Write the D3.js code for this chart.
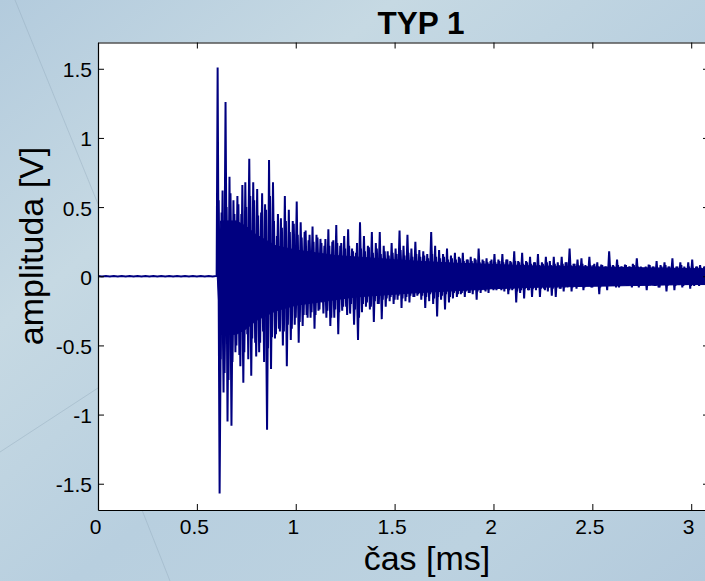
<!DOCTYPE html>
<html><head><meta charset="utf-8">
<script src="https://cdn.jsdelivr.net/npm/d3@7"></script>
<style>
html,body{margin:0;padding:0;overflow:hidden;}
svg{display:block;}
text{font-family:"Liberation Sans",Arial,Helvetica,sans-serif;fill:#000;}
</style></head>
<body>
<script>
// ---- data ----
const chartTitle = "TYP 1";
const xLabel = "čas [ms]";
const yLabel = "amplituda [V]";
const xTickValues = [0, 0.5, 1, 1.5, 2, 2.5, 3];
const xTickLabels = ["0", "0.5", "1", "1.5", "2", "2.5", "3"];
const yTickValues = [-1.5, -1, -0.5, 0, 0.5, 1, 1.5];
const yTickLabels = ["-1.5", "-1", "-0.5", "0", "0.5", "1", "1.5"];
const xDomain = [0, 3.09];
const yDomain = [-1.69, 1.69];

// quiet baseline before the onset (every 0.02 ms from 0 ms)
const baselineStart = 0;
const baselineStep = 0.02;
const baselineValues = [0.001,-0.001,0.001,-0.001,0.001,-0.001,0.001,-0.001,0.001,-0.001,
  0.001,-0.001,0.001,-0.001,0.001,-0.001,0.001,-0.001,0.001,-0.001,
  0.001,-0.001,0.001,-0.001,0.001,-0.001,0.001,-0.001,0.001,-0.001,0.002];

// dense oscillation core of the signal (solid band), envelope read at these times
const coreTimes = [0.603, 0.612, 0.62, 0.7, 0.75, 0.8, 0.9, 1.0, 1.1, 1.2, 1.3, 1.4, 1.5, 1.6, 1.8, 2.0, 2.2, 2.4, 2.6, 2.8, 3.0, 3.09];
const coreUpper = [0.0, 0.24, 0.40, 0.40, 0.36, 0.30, 0.22, 0.19, 0.17, 0.15, 0.14, 0.13, 0.12, 0.11, 0.095, 0.085, 0.075, 0.07, 0.065, 0.06, 0.055, 0.055];
const coreLower = [0.0, -0.24, -0.42, -0.42, -0.38, -0.32, -0.25, -0.21, -0.19, -0.17, -0.15, -0.14, -0.13, -0.12, -0.105, -0.09, -0.08, -0.075, -0.07, -0.065, -0.06, -0.06];

// after the onset: main positive and negative peaks (one pair per 0.02 ms from 0.605 ms)
const onsetTime = 0.605;
const peakCycle = 0.02;
const peaksUp = [
  1.51,0.46,1.26,0.72,0.55,0.58,0.45,0.68,0.85,0.68,
  0.63,0.46,0.52,0.84,0.68,0.29,0.42,0.58,0.48,0.40,
  0.54,0.39,0.32,0.26,0.36,0.30,0.27,0.22,0.34,0.25,
  0.37,0.22,0.29,0.34,0.20,0.17,0.39,0.29,0.22,0.32,
  0.24,0.32,0.22,0.18,0.24,0.20,0.33,0.22,0.30,0.20,
  0.25,0.19,0.18,0.16,0.32,0.22,0.19,0.16,0.20,0.15,
  0.17,0.14,0.17,0.12,0.14,0.13,0.20,0.12,0.13,0.11,
  0.16,0.12,0.16,0.12,0.11,0.18,0.11,0.17,0.11,0.14,
  0.10,0.16,0.10,0.14,0.11,0.14,0.10,0.14,0.10,0.20,
  0.09,0.12,0.13,0.08,0.14,0.08,0.10,0.085,0.07,0.18,
  0.08,0.12,0.07,0.085,0.07,0.09,0.13,0.07,0.06,0.085,
  0.07,0.11,0.08,0.10,0.07,0.13,0.07,0.10,0.07,0.10,
  0.12,0.07,0.08,0.07,0.08];
const peaksDown = [
  -1.57,-0.84,-1.05,-1.08,-0.55,-0.57,-0.77,-0.42,-0.72,-0.48,
  -0.55,-0.40,-1.11,-0.67,-0.45,-0.38,-0.50,-0.65,-0.46,-0.35,
  -0.48,-0.36,-0.28,-0.30,-0.38,-0.25,-0.19,-0.30,-0.36,-0.30,
  -0.42,-0.25,-0.22,-0.27,-0.35,-0.46,-0.26,-0.22,-0.24,-0.33,
  -0.20,-0.31,-0.22,-0.18,-0.20,-0.17,-0.23,-0.18,-0.19,-0.15,
  -0.14,-0.17,-0.23,-0.18,-0.20,-0.29,-0.17,-0.24,-0.19,-0.16,
  -0.15,-0.13,-0.15,-0.12,-0.13,-0.17,-0.12,-0.10,-0.12,-0.09,
  -0.10,-0.09,-0.11,-0.13,-0.10,-0.19,-0.12,-0.16,-0.10,-0.15,
  -0.10,-0.15,-0.09,-0.11,-0.14,-0.15,-0.09,-0.11,-0.08,-0.11,
  -0.07,-0.07,-0.10,-0.06,-0.08,-0.07,-0.13,-0.07,-0.10,-0.07,
  -0.06,-0.08,-0.06,-0.07,-0.06,-0.05,-0.08,-0.06,-0.10,-0.06,
  -0.07,-0.08,-0.06,-0.11,-0.06,-0.10,-0.06,-0.08,-0.06,-0.09,
  -0.07,-0.06,-0.06,-0.06,-0.07];

// secondary (in-between) peaks, one pair per 0.02 ms from 0.610 ms
const secondTime = 0.610;
const peaksUp2 = [
  0.55,0.62,0.50,0.60,0.45,0.52,0.66,0.50,0.58,0.55,0.44,0.60,0.48,0.58,0.40,0.45,
  0.35,0.40,0.32,0.38,0.30,0.28,0.33,0.30,0.25,0.28,0.24,0.27,0.22,0.26,0.24,
  0.24,0.20,0.22,0.18,0.24,0.20,0.18,0.21,0.17,0.20,0.16,0.18,0.15,0.17,0.16,0.19,0.15,0.17,0.14,0.16,
  0.14,0.15,0.13,0.16,0.14,0.13,0.14,0.12,0.13,0.12,0.13,0.11,0.12,0.11,0.12,0.10,0.11,0.10,0.12,0.10,0.11,0.10,0.12,0.10,0.11,
  0.10,0.09,0.10,0.09,0.10,0.08,0.09,0.10,0.08,0.09,0.08,0.09,0.10,0.08,0.09,0.08,0.09,0.07,0.08,0.09,
  0.07,0.08,0.07,0.08,0.07,0.08,0.07,0.08,0.07,0.08,0.07,0.06,0.07,0.08,0.07,0.06,0.07,0.08,0.07,0.06,
  0.07,0.08,0.06,0.07,0.06,0.07,0.06,0.07,0.06];
const peaksDown2 = [
  -0.60,-0.70,-0.75,-0.62,-0.50,-0.65,-0.55,-0.60,-0.45,-0.58,-0.48,-0.62,-0.52,-0.44,-0.42,-0.40,
  -0.40,-0.35,-0.38,-0.30,-0.33,-0.28,-0.30,-0.26,-0.28,-0.24,-0.27,-0.25,-0.30,-0.24,-0.26,
  -0.22,-0.28,-0.20,-0.24,-0.30,-0.20,-0.19,-0.22,-0.18,-0.20,-0.17,-0.16,-0.15,-0.17,-0.14,-0.16,-0.15,-0.14,-0.15,-0.13,
  -0.14,-0.15,-0.13,-0.16,-0.15,-0.14,-0.13,-0.15,-0.12,-0.13,-0.12,-0.11,-0.12,-0.10,-0.11,-0.10,-0.11,-0.09,-0.10,-0.09,-0.10,-0.09,-0.10,-0.09,-0.11,
  -0.10,-0.09,-0.10,-0.09,-0.08,-0.09,-0.10,-0.08,-0.09,-0.08,-0.09,-0.08,-0.07,-0.08,-0.09,-0.07,-0.08,-0.07,-0.08,-0.07,
  -0.08,-0.07,-0.06,-0.07,-0.08,-0.07,-0.06,-0.07,-0.08,-0.06,-0.07,-0.06,-0.07,-0.06,-0.07,-0.08,-0.06,-0.07,-0.06,-0.07,
  -0.06,-0.07,-0.06,-0.07,-0.06,-0.07,-0.06,-0.07,-0.06];

// ---- build the point lists ----
const points = [];
baselineValues.forEach((v, i) => points.push([baselineStart + i * baselineStep, v]));
peaksUp.forEach((v, i) => {
  points.push([onsetTime + i * peakCycle, v]);
  if (i < peaksDown.length) points.push([onsetTime + i * peakCycle + peakCycle / 2, peaksDown[i]]);
});
const points2 = [];
peaksUp2.forEach((v, i) => {
  points2.push([secondTime + i * peakCycle, v]);
  if (i < peaksDown2.length) points2.push([secondTime + i * peakCycle + peakCycle / 2, peaksDown2[i]]);
});
const core = coreTimes.map((t, i) => ({t, hi: coreUpper[i], lo: coreLower[i]}));

// ---- layout ----
const W = 705, H = 581;
const plot = {left: 98, top: 42.5, width: 611, height: 467.5};
const navy = "#000080";

const svg = d3.select("body").append("svg").attr("width", W).attr("height", H);

// background gradient
const defs = svg.append("defs");
const grad = defs.append("linearGradient").attr("id", "bg")
  .attr("x1", "0%").attr("y1", "0%").attr("x2", "100%").attr("y2", "100%");
[["0%", "#b3cbdd"], ["28%", "#c6d9e3"], ["55%", "#b8cfdf"], ["80%", "#bcd2e0"], ["100%", "#b3cadc"]]
  .forEach(([o, c]) => grad.append("stop").attr("offset", o).attr("stop-color", c));
svg.append("rect").attr("width", W).attr("height", H).attr("fill", "url(#bg)");

// faint decorative lines of the slide background
const deco = svg.append("g").attr("stroke", "#8ea6b8").attr("stroke-width", 0.7).attr("opacity", 0.55).attr("fill", "none");
deco.append("line").attr("x1", 15).attr("y1", 0).attr("x2", 98).attr("y2", 204);
deco.append("line").attr("x1", 0).attr("y1", 452).attr("x2", 98).attr("y2", 388);
deco.append("line").attr("x1", 142).attr("y1", 510).attr("x2", 170).attr("y2", 581);

defs.append("clipPath").attr("id", "clip").append("rect")
  .attr("x", plot.left).attr("y", plot.top).attr("width", plot.width).attr("height", plot.height);

const x = d3.scaleLinear().domain(xDomain).range([plot.left, plot.left + plot.width]);
const y = d3.scaleLinear().domain(yDomain).range([plot.top + plot.height, plot.top]);

// plot area
svg.append("rect").attr("x", plot.left).attr("y", plot.top)
  .attr("width", plot.width).attr("height", plot.height).attr("fill", "#fff");

const sig = svg.append("g").attr("clip-path", "url(#clip)");
// dense core
sig.append("path").datum(core)
  .attr("d", d3.area().x(d => x(d.t)).y0(d => y(d.lo)).y1(d => y(d.hi)))
  .attr("fill", navy).attr("stroke", navy).attr("stroke-width", 1);
// signal peaks
const line = d3.line().x(d => x(d[0])).y(d => y(d[1]));
sig.append("path").datum(points2)
  .attr("d", line).attr("fill", "none")
  .attr("stroke", navy).attr("stroke-width", 2.0).attr("stroke-linejoin", "miter");
sig.append("path").datum(points)
  .attr("d", line).attr("fill", "none")
  .attr("stroke", navy).attr("stroke-width", 2.0).attr("stroke-linejoin", "miter");

// axes (MATLAB style: ticks inward on all four sides)
const tickLen = 6;
const fmtX = v => xTickLabels[xTickValues.indexOf(v)];
const fmtY = v => yTickLabels[yTickValues.indexOf(v)];

const axB = svg.append("g").attr("transform", `translate(0,${plot.top + plot.height})`)
  .call(d3.axisBottom(x).tickValues(xTickValues).tickSize(-tickLen).tickSizeOuter(0).tickFormat(fmtX).tickPadding(12));
const axT = svg.append("g").attr("transform", `translate(0,${plot.top})`)
  .call(d3.axisTop(x).tickValues(xTickValues).tickSize(-tickLen).tickSizeOuter(0).tickFormat(""));
const axL = svg.append("g").attr("transform", `translate(${plot.left},0)`)
  .call(d3.axisLeft(y).tickValues(yTickValues).tickSize(-tickLen).tickSizeOuter(0).tickFormat(fmtY).tickPadding(12));
const axR = svg.append("g").attr("transform", `translate(${plot.left + plot.width},0)`)
  .call(d3.axisRight(y).tickValues(yTickValues).tickSize(-tickLen).tickSizeOuter(0).tickFormat(""));

[axB, axT, axL, axR].forEach(g => {
  g.selectAll(".domain").attr("stroke", "#000").attr("stroke-width", 1.2);
  g.selectAll(".tick line").attr("stroke", "#000").attr("stroke-width", 1);
  g.selectAll("text").attr("font-size", 21).attr("font-family", '"Liberation Sans",Arial,sans-serif').attr("fill", "#000");
});
axB.selectAll(".tick text").attr("dx", -3).attr("dy", "0.72em").attr("y", 9);
axL.selectAll(".tick text").attr("x", -6).attr("dy", "0.38em");

// titles
svg.append("text").attr("x", 421).attr("y", 33.5).attr("text-anchor", "middle")
  .attr("font-size", 31.5).attr("font-weight", "bold").text(chartTitle);
svg.append("text").attr("x", 427).attr("y", 570).attr("text-anchor", "middle")
  .attr("font-size", 34).text(xLabel);
svg.append("text").attr("transform", "translate(43,246) rotate(-90)").attr("text-anchor", "middle")
  .attr("font-size", 34).text(yLabel);
</script>
</body></html>
